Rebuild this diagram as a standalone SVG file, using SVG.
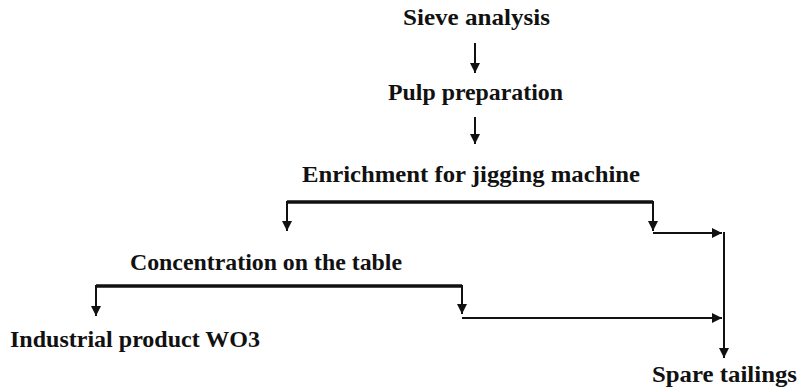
<svg xmlns="http://www.w3.org/2000/svg" width="800" height="392" viewBox="0 0 800 392">
<style>
text{font-family:"Liberation Serif","Times New Roman",serif;font-weight:bold;font-size:24px;fill:#111}
.ln{stroke:#111;stroke-width:2;fill:none}
.thick{stroke:#111;stroke-width:3.5;fill:none}
</style>
<defs>
<marker id="ah" viewBox="0 0 10 10" refX="10" refY="5" markerWidth="5" markerHeight="5" orient="auto" markerUnits="strokeWidth">
<path d="M0,0 L10,5 L0,10 z" fill="#111"/>
</marker>
</defs>
<rect width="800" height="392" fill="#fff"/>
<g id="sieve"><text x="403" y="25" textLength="147" lengthAdjust="spacingAndGlyphs">Sieve analysis</text></g>
<g id="pulp"><text x="388" y="100" textLength="175" lengthAdjust="spacingAndGlyphs">Pulp preparation</text></g>
<g id="enrich"><text x="302" y="182" textLength="338" lengthAdjust="spacingAndGlyphs">Enrichment for jigging machine</text></g>
<g id="conc"><text x="130" y="270" textLength="272" lengthAdjust="spacingAndGlyphs">Concentration on the table</text></g>
<g id="industrial"><text x="10" y="347" textLength="250" lengthAdjust="spacingAndGlyphs">Industrial product WO3</text></g>
<g id="tailings"><text x="652" y="382" textLength="145" lengthAdjust="spacingAndGlyphs">Spare tailings</text></g>
<g id="connectors">
<path class="ln" d="M475,43 V73" marker-end="url(#ah)"/>
<path class="ln" d="M475,117 V144" marker-end="url(#ah)"/>
<path class="thick" d="M287,202 H653"/>
<path class="ln" d="M287,201 V231" marker-end="url(#ah)"/>
<path class="ln" d="M653,201 V231" marker-end="url(#ah)"/>
<path class="ln" d="M653,233 H722" marker-end="url(#ah)"/>
<path class="ln" d="M724,232 V358" marker-end="url(#ah)"/>
<path class="thick" d="M96,286 H462"/>
<path class="ln" d="M96,285 V316" marker-end="url(#ah)"/>
<path class="ln" d="M462,285 V314" marker-end="url(#ah)"/>
<path class="ln" d="M462,318 H722" marker-end="url(#ah)"/>
</g>
</svg>
